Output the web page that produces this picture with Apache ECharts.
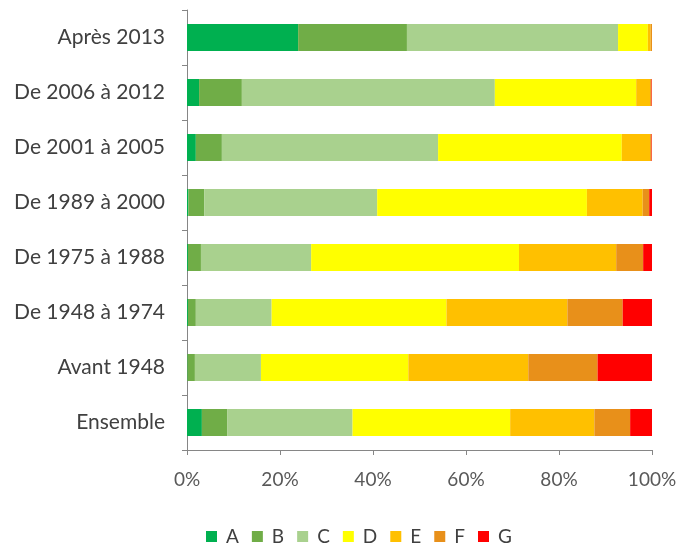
<!DOCTYPE html>
<html>
<head>
<meta charset="utf-8">
<script src="https://cdn.jsdelivr.net/npm/echarts@6/dist/echarts.min.js"></script>
<style>
  html, body { margin: 0; padding: 0; background: #fff; }
  #chart { width: 692px; height: 547px; }
</style>
</head>
<body>
<div id="chart"></div>
<script>
// periodes (haut -> bas)
const categories = ['Après 2013', 'De 2006 à 2012', 'De 2001 à 2005', 'De 1989 à 2000',
  'De 1975 à 1988', 'De 1948 à 1974', 'Avant 1948', 'Ensemble']

const classes = ['A', 'B', 'C', 'D', 'E', 'F', 'G']

// parts en %
const valA = [23.9, 2.6, 1.9, 0.3, 0.2, 0.2, 0.1, 3.2]
const valB = [23.4, 9.2, 5.6, 3.4, 2.8, 1.7, 1.6, 5.5]
const valC = [45.4, 54.4, 46.5, 37.2, 23.7, 16.3, 14.2, 26.9]
const valD = [6.4, 30.4, 39.5, 45.1, 44.7, 37.6, 31.7, 33.9]
const valE = [0.6, 3.0, 6.1, 12.0, 20.9, 26.0, 25.8, 18.1]
const valF = [0.3, 0.3, 0.3, 1.4, 5.8, 11.9, 14.9, 7.7]
const valG = [0.0, 0.1, 0.1, 0.6, 1.9, 6.3, 11.7, 4.7]

const xTicks = [0, 20, 40, 60, 80, 100]

const colors = ['#00b050', '#70ad47', '#a9d18e', '#ffff00', '#ffc000', '#e8901a', '#ff0000']
const values = [valA, valB, valC, valD, valE, valF, valG]

const chart = echarts.init(document.getElementById('chart'))

const font = 'Lato, "Open Sans", sans-serif'

const series = classes.map((name, i) => ({
  name: name,
  type: 'bar',
  stack: 'total',
  barWidth: 27,
  itemStyle: { color: colors[i] },
  data: values[i]
}))

chart.setOption({
  animation: false,
  color: colors,
  grid: { left: 187, right: 40, top: 10, bottom: 97, containLabel: false },
  legend: {
    data: classes,
    top: 522,
    left: 201,
    itemWidth: 11,
    itemHeight: 11,
    itemGap: 13,
    icon: 'rect',
    textStyle: { fontFamily: font, fontSize: 19, color: '#404040', padding: [0, 0, 0, 4] }
  },
  xAxis: {
    type: 'value',
    min: xTicks[0],
    max: xTicks[xTicks.length - 1],
    interval: 20,
    axisLine: { show: true, lineStyle: { color: '#868686', width: 1 } },
    axisTick: { show: true, length: 5, lineStyle: { color: '#868686' } },
    splitLine: { show: false },
    axisLabel: {
      formatter: '{value}%',
      margin: 20,
      fontFamily: font,
      fontSize: 19,
      color: '#595959'
    }
  },
  yAxis: {
    type: 'category',
    inverse: true,
    data: categories,
    axisLine: { show: true, lineStyle: { color: '#868686', width: 1 } },
    axisTick: { show: true, length: 5, lineStyle: { color: '#868686' } },
    axisLabel: {
      margin: 22,
      fontFamily: font,
      fontSize: 21,
      color: '#404040'
    }
  },
  series: series
})
</script>
</body>
</html>
